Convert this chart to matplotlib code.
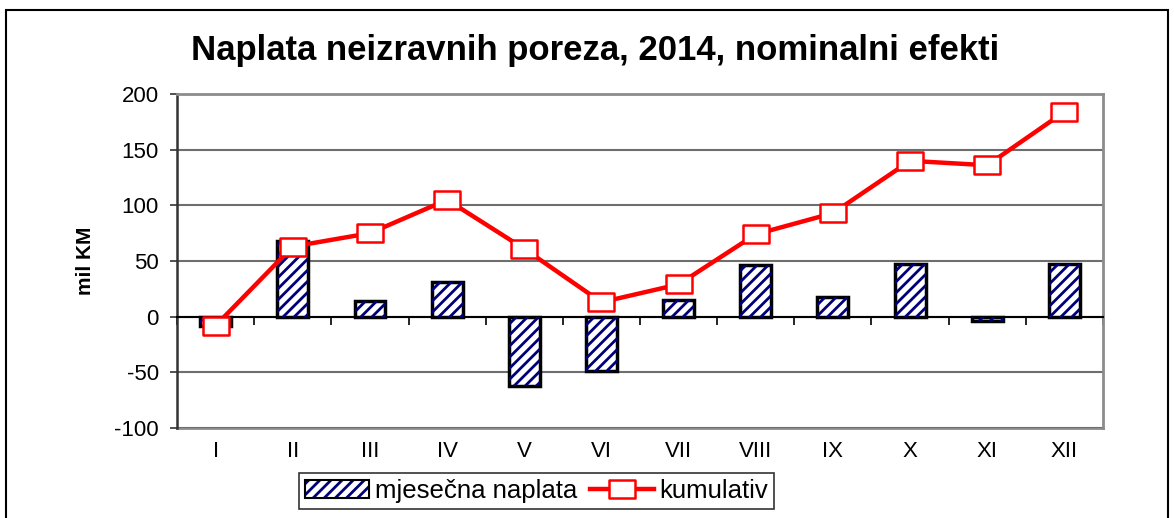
import numpy as np
from matplotlib import pyplot as plt
from matplotlib.path import Path
from matplotlib.patches import Patch
from matplotlib.lines import Line2D

# Naplata neizravnih poreza 2014
mjeseci = ['I', 'II', 'III', 'IV', 'V', 'VI', 'VII', 'VIII', 'IX', 'X', 'XI', 'XII']
mjesecna = [-8, 68, 14, 31, -62, -49, 15, 46, 18, 47, -4, 47]
kumulativ = [-8, 63, 75, 105, 61, 13, 29, 74, 93, 140, 136, 184]

plt.rcParams['font.family'] = ['Liberation Sans', 'DejaVu Sans']
plt.rcParams['axes.unicode_minus'] = False
plt.rcParams['hatch.linewidth'] = 2.0

fig = plt.figure(figsize=(11.74, 5.18), dpi=100)
ax = fig.add_axes([0.1508, 0.1737, 0.7887, 0.6448])

x = np.arange(len(mjeseci))

ax.bar(x, mjesecna, width=0.4, color='white', edgecolor='black', linewidth=2.5, zorder=3)
ax.bar(x, mjesecna, width=0.4, color='none', edgecolor='#00007a', hatch='///', linewidth=0, zorder=3)

rect = Path([(-1.4, -1), (1.4, -1), (1.4, 1), (-1.4, 1), (-1.4, -1)],
            [Path.MOVETO, Path.LINETO, Path.LINETO, Path.LINETO, Path.CLOSEPOLY])
ax.plot(x, kumulativ, color='#ff0000', linewidth=3.2, marker=rect, markersize=19,
        markerfacecolor='white', markeredgecolor='#ff0000', markeredgewidth=1.8, zorder=4)

ax.set_xlim(-0.5, 11.5)
ax.set_ylim(-100, 200)
ax.set_yticks(range(-100, 201, 50))
ax.yaxis.grid(True, color='#6e6e6e', linewidth=1.5)
ax.set_axisbelow(True)
ax.tick_params(axis='y', labelsize=16, length=5, width=1.2, color='#333333', pad=8)

# zero line with ticks between months
ax.spines['bottom'].set_position(('data', 0))
ax.spines['bottom'].set_color('black')
ax.spines['bottom'].set_linewidth(1.5)
ax.set_xticks(np.arange(-0.5, 12, 1))
ax.set_xticklabels([])
ax.tick_params(axis='x', length=6, width=1.2, color='black', direction='out')

# month labels at the bottom
sec = ax.secondary_xaxis(0)
sec.set_xticks(x)
sec.set_xticklabels(mjeseci)
sec.tick_params(length=0, labelsize=16, pad=9)
sec.spines['bottom'].set_color('#8c8c8c')
sec.spines['bottom'].set_linewidth(2)

ax.spines['left'].set_color('#333333')
ax.spines['left'].set_linewidth(1.8)
for s in ['top', 'right']:
    ax.spines[s].set_color('#8c8c8c')
    ax.spines[s].set_linewidth(2)

ax.set_ylabel('mil KM', fontsize=15, fontweight='bold', labelpad=14)

fig.text(0.507, 0.903, 'Naplata neizravnih poreza, 2014, nominalni efekti',
         ha='center', va='center', fontsize=25, fontweight='bold')

h1 = Patch(facecolor='white', edgecolor='#00007a', hatch='///', linewidth=0)
h1b = Patch(facecolor='none', edgecolor='black', linewidth=1.5)
h2 = Line2D([], [], color='#ff0000', linewidth=3.2, marker=rect, markersize=19,
            markerfacecolor='white', markeredgecolor='#ff0000', markeredgewidth=1.8)
leg = fig.legend([(h1, h1b), h2], ['mjesečna naplata', 'kumulativ'], loc='center',
                 bbox_to_anchor=(0.457, 0.052), ncol=2, fontsize=18.5, frameon=True,
                 fancybox=False, edgecolor='black', handlelength=2.5, handletextpad=0.2,
                 columnspacing=0.5, borderpad=0.25)
leg.get_frame().set_linewidth(1.2)

# outer frame
fig.patches.append(plt.Rectangle((0.005, -0.01), 0.99, 0.99, transform=fig.transFigure,
                                 fill=False, edgecolor='black', linewidth=1.5))

fig.savefig('out.png', dpi=100)
